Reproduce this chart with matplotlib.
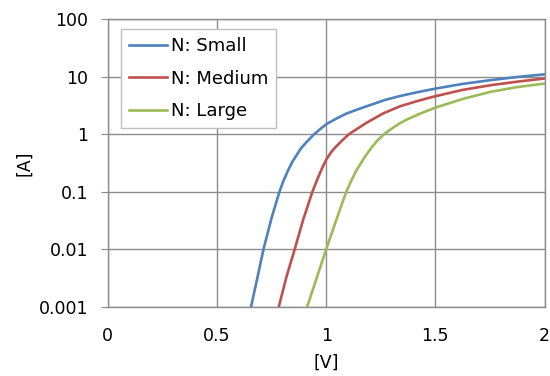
import matplotlib
matplotlib.use('Agg')
import matplotlib.pyplot as plt

# values (voltage [V], current [A])
v_small = [0.656, 0.688, 0.713, 0.750, 0.786, 0.803, 0.826, 0.845, 0.864, 0.885, 0.910,
           0.945, 0.975, 1.005, 1.05, 1.093, 1.15, 1.2, 1.27, 1.337, 1.42, 1.5, 1.625,
           1.752, 1.875, 2.0]
i_small = [0.001, 0.0036, 0.01, 0.035, 0.1, 0.15, 0.237, 0.33, 0.43, 0.57, 0.73,
           1.0, 1.25, 1.53, 1.9, 2.29, 2.75, 3.2, 3.95, 4.6, 5.4, 6.2, 7.5,
           8.7, 9.9, 11.0]

v_medium = [0.783, 0.818, 0.856, 0.894, 0.937, 0.96, 0.98, 1.002, 1.025, 1.047, 1.075,
            1.104, 1.15, 1.185, 1.261, 1.337, 1.42, 1.5, 1.625, 1.752, 1.875, 2.0]
i_medium = [0.001, 0.0033, 0.01, 0.032, 0.1, 0.166, 0.25, 0.37, 0.5, 0.62, 0.79,
            1.0, 1.3, 1.58, 2.3, 3.05, 3.8, 4.58, 5.9, 7.1, 8.2, 9.3]

v_large = [0.913, 0.957, 1.0, 1.046, 1.092, 1.116, 1.139, 1.156, 1.18, 1.21, 1.235,
           1.265, 1.3, 1.337, 1.37, 1.42, 1.5, 1.625, 1.752, 1.875, 2.0]
i_large = [0.001, 0.0032, 0.01, 0.032, 0.1, 0.158, 0.237, 0.30, 0.42, 0.6, 0.78,
           1.0, 1.25, 1.55, 1.8, 2.2, 2.9, 4.1, 5.45, 6.6, 7.6]

labels = ['N: Small', 'N: Medium', 'N: Large']
colors = ['#4F81BD', '#C0504D', '#9BBB59']

y_ticks = [0.001, 0.01, 0.1, 1, 10, 100]
y_tick_labels = ['0.001', '0.01', '0.1', '1', '10', '100']
x_ticks = [0, 0.5, 1, 1.5, 2]
x_tick_labels = ['0', '0.5', '1', '1.5', '2']

fig = plt.figure(figsize=(5.5, 3.76), dpi=100)
ax = fig.add_axes([0.196, 0.184, 0.794, 0.765])

series = [(v_small, i_small), (v_medium, i_medium), (v_large, i_large)]
for (v, i), name, c in zip(series, labels, colors):
    ax.plot(v, i, color=c, lw=1.9, label=name, solid_joinstyle='round')

ax.set_yscale('log')
ax.set_xlim(0, 2)
ax.set_ylim(0.001, 100)
ax.set_yticks(y_ticks)
ax.set_yticklabels(y_tick_labels)
ax.minorticks_off()
ax.set_xticks(x_ticks)
ax.set_xticklabels(x_tick_labels)

ax.grid(True, color='#8c8c8c', lw=1.0)
ax.set_axisbelow(True)
for s in ax.spines.values():
    s.set_color('#8c8c8c')
    s.set_linewidth(1.0)

ax.tick_params(axis='y', direction='out', length=5, color='#8c8c8c', labelsize=12.5, pad=9)
ax.tick_params(axis='x', length=0, labelsize=12.5, pad=14.5)

ax.set_xlabel('[V]', fontsize=12.5, labelpad=6)
ax.set_ylabel('[A]', fontsize=12.5, labelpad=4)

leg = ax.legend(loc='upper left', bbox_to_anchor=(0.03, 0.965), borderaxespad=0,
                fontsize=13, fancybox=False, framealpha=1, edgecolor='#bfbfbf',
                handlelength=2.1, handletextpad=0.2, labelspacing=0.8,
                borderpad=0.45)
leg.get_frame().set_linewidth(1.0)

fig.savefig('out.png', dpi=100)
